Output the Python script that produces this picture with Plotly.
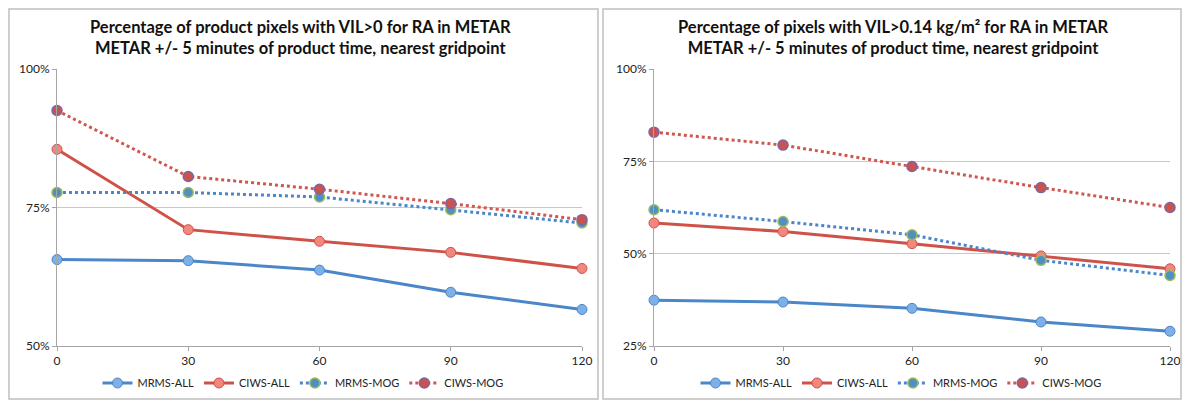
import plotly.graph_objects as go

# lead time (minutes)
lead = [0, 30, 60, 90, 120]

# left panel: VIL>0
left_mrms_all = [65.6, 65.4, 63.7, 59.7, 56.6]
left_ciws_all = [85.5, 71.0, 68.9, 66.9, 64.0]
left_mrms_mog = [77.7, 77.7, 76.9, 74.6, 72.2]
left_ciws_mog = [92.5, 80.6, 78.3, 75.7, 72.8]

# right panel: VIL>0.14 kg/m2
right_mrms_all = [37.4, 36.9, 35.2, 31.5, 29.0]
right_ciws_all = [58.3, 56.0, 52.7, 49.4, 45.9]
right_mrms_mog = [61.9, 58.7, 55.1, 48.2, 44.1]
right_ciws_mog = [82.9, 79.4, 73.6, 67.9, 62.5]

names = ["MRMS-ALL", "CIWS-ALL", "MRMS-MOG", "CIWS-MOG"]
left_ticks = [50, 75, 100]
right_ticks = [25, 50, 75, 100]

titles = [
    "Percentage of product pixels with VIL>0 for RA in METAR<br>"
    "METAR +/- 5 minutes of product time, nearest gridpoint",
    "Percentage of pixels with VIL>0.14 kg/m² for RA in METAR<br>"
    "METAR +/- 5 minutes of product time, nearest gridpoint",
]

# page body keeps an 8px margin
W, H = 1182, 392
OFF = 8
FONT = "Lato"
BLUE = "#4A86C8"
RED = "#CF5249"

styles = [
    dict(line=dict(color=BLUE, width=3),
         marker=dict(color="#7DB0E8", size=10, line=dict(color=BLUE, width=1))),
    dict(line=dict(color=RED, width=3),
         marker=dict(color="#F2877E", size=10, line=dict(color=RED, width=1))),
    dict(line=dict(color=BLUE, width=3, dash="dot"),
         marker=dict(color="#4F8FC4", size=10, line=dict(color="#9BBB59", width=1.5))),
    dict(line=dict(color="#D0574F", width=3, dash="dot"),
         marker=dict(color="#C9544F", size=10, line=dict(color="#8064A2", width=1.5))),
]

fig = go.Figure()

panels = [
    ([left_mrms_all, left_ciws_all, left_mrms_mog, left_ciws_mog], "x", "y", "legend"),
    ([right_mrms_all, right_ciws_all, right_mrms_mog, right_ciws_mog], "x2", "y2", "legend2"),
]
for series, xa, ya, lg in panels:
    for name, vals, st in zip(names, series, styles):
        fig.add_trace(go.Scatter(x=lead, y=vals, name=name, mode="lines+markers",
                                 xaxis=xa, yaxis=ya, legend=lg, cliponaxis=False,
                                 line=st["line"], marker=st["marker"]))

def px(v):
    return min(max((v - OFF) / W, 0), 1)

def py(v):
    return min(max(1 - (v - OFF) / H, 0), 1)

tickfont = dict(family=FONT, size=12, color="#222")
legfont = dict(family=FONT, size=11, color="#222")
axis_common = dict(showgrid=False, linecolor="#A6A6A6", linewidth=1, ticks="outside",
                   ticklen=4, tickcolor="#A6A6A6", tickfont=tickfont,
                   zeroline=False, fixedrange=True, automargin=False,
                   ticklabeloverflow="allow")
ycommon = dict(showgrid=True, gridcolor="#C8C8C8", gridwidth=1, showline=True, linecolor="#A6A6A6",
               ticks="outside", ticklen=4, tickcolor="#A6A6A6",
               tickfont=tickfont, zeroline=False, fixedrange=True, automargin=False)

fig.update_layout(
    width=W, height=H, margin=dict(l=0, r=0, t=0, b=0, autoexpand=False),
    paper_bgcolor="white", plot_bgcolor="white",
    font=dict(family=FONT),
    xaxis=dict(domain=[px(57), px(582)], range=[0, 120], tickvals=lead, anchor="y", **axis_common),
    yaxis=dict(domain=[py(346), py(69)], range=[50, 100], tickvals=left_ticks,
               ticktext=[f"{t}%" for t in left_ticks], anchor="x", **ycommon),
    # right end pulled in a little so the "120" label is not cut at the window edge
    xaxis2=dict(domain=[px(654), px(1170)], range=[0, 120], tickvals=lead,
                anchor="y2", **axis_common),
    yaxis2=dict(domain=[py(346), py(69)], range=[25, 100], tickvals=right_ticks,
                ticktext=[f"{t}%" for t in right_ticks], anchor="x2", **ycommon),
    legend=dict(orientation="h", x=px(303), xanchor="center", y=py(383), yanchor="middle",
                font=legfont, itemwidth=30, tracegroupgap=0),
    legend2=dict(orientation="h", x=px(901), xanchor="center", y=py(383), yanchor="middle",
                 font=legfont, itemwidth=30, tracegroupgap=0),
    shapes=[
        dict(type="rect", xref="paper", yref="paper", x0=px(9), x1=px(598), y0=py(399), y1=py(9),
             line=dict(color="#BFBFBF", width=1.5)),
        dict(type="rect", xref="paper", yref="paper", x0=px(603), x1=px(1181), y0=py(399), y1=py(9),
             line=dict(color="#BFBFBF", width=1.5)),
    ],
    annotations=[
        dict(text=titles[0], xref="paper", yref="paper", x=px(300), y=py(37), showarrow=False,
             xanchor="center", yanchor="middle", font=dict(family=FONT, size=16.5, color="#111", weight="bold")),
        dict(text=titles[1], xref="paper", yref="paper", x=px(893), y=py(37), showarrow=False,
             xanchor="center", yanchor="middle", font=dict(family=FONT, size=16.5, color="#111", weight="bold")),
    ],
)

fig.write_html("out.html")
